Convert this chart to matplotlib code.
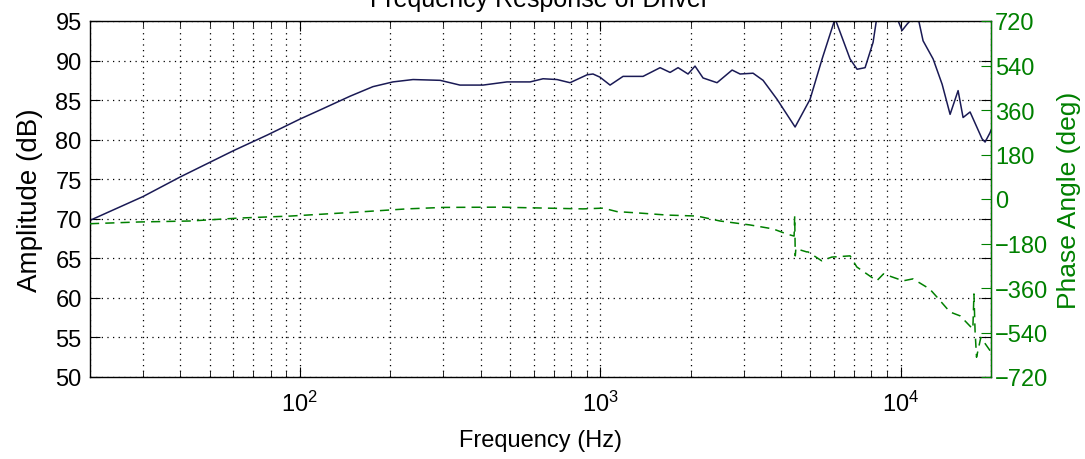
import matplotlib
matplotlib.use("Agg")
import matplotlib.pyplot as plt
import matplotlib.ticker as mticker
import numpy as np

# ========================== Data ==========================
freq_amp = [20, 30, 40, 60, 78, 100, 119, 147, 175, 204, 238, 293, 341, 407,
            489, 584, 645, 718, 793, 904, 946, 998, 1078, 1191, 1388, 1582,
            1708, 1816, 1960, 2068, 2199, 2448, 2748, 2921, 3227, 3484, 3879,
            4454, 4995, 5478, 6052, 6788, 7164, 7617, 8098, 8416, 9226,
            10116, 10510, 11347, 11881, 12832, 13751, 14616, 15540, 16146,
            17036, 18679, 19114, 19861, 20000]
amp_db = [69.8, 72.8, 75.3, 78.6, 80.6, 82.6, 83.9, 85.5, 86.7, 87.3, 87.6,
          87.5, 86.9, 86.9, 87.3, 87.3, 87.7, 87.6, 87.2, 88.2, 88.3, 87.9,
          86.9, 88.0, 88.0, 89.1, 88.5, 89.1, 88.3, 89.3, 87.8, 87.2, 88.8,
          88.3, 88.4, 87.5, 85.1, 81.6, 85.1, 90.2, 95.3, 90.2, 88.9, 89.1,
          92.3, 96.5, 97.5, 93.8, 94.6, 96.0, 92.5, 90.2, 87.0, 83.2, 86.2,
          82.8, 83.5, 80.1, 79.7, 80.9, 81.2]

freq_ph = [20, 29, 43, 63, 93, 155, 227, 300, 464, 876, 1022, 1137, 1357,
           1669, 2101, 2505, 3154, 3762, 4188, 4420, 4440, 4460, 4480, 4510,
           4870, 4920, 5460, 5900, 6790, 7150, 8330, 8770, 10200, 11000,
           12500, 13200, 14600, 15800, 17400, 17550, 17700, 17900, 18500,
           19900, 20000]
phase_deg = [-100, -93, -89, -77, -69, -53, -40, -34, -33, -40, -37, -51,
             -57, -65, -69, -89, -105, -121, -142, -150, -70, -230, -200,
             -202, -214, -214, -250, -235, -230, -275, -331, -303, -331,
             -323, -364, -396, -457, -473, -526, -384, -534, -640, -560,
             -615, -620]

amp_ticks = [50, 55, 60, 65, 70, 75, 80, 85, 90, 95]
phase_ticks = [-720, -540, -360, -180, 0, 180, 360, 540, 720]
green = '#008000'

# ========================== Settings ==========================
plt.rcParams.update({
    "font.family": ["Liberation Sans", "DejaVu Sans"],
    "mathtext.fontset": "custom",
    "mathtext.rm": "Liberation Sans",
    "mathtext.it": "Liberation Sans:italic",
})

# ========================== Plot ==========================
fig = plt.figure(figsize=(10.85, 4.6), dpi=100)
ax = fig.add_axes([90 / 1085, 82 / 460, 901 / 1085, 356 / 460])
ax2 = ax.twinx()

ax.plot(freq_amp, amp_db, color='#1a1a55', lw=1.1)
ax2.plot(freq_ph, phase_deg, color=green, lw=1.1, dashes=(6, 4))

ax.set_xscale('log')
ax.set_xlim(20, 20000)
ax.set_ylim(50, 95)
ax.set_yticks(amp_ticks)
ax2.set_ylim(-720, 720)
ax2.set_yticks(phase_ticks)

ax.xaxis.set_major_locator(mticker.LogLocator(base=10, numticks=10))
ax.xaxis.set_minor_locator(mticker.LogLocator(base=10, subs=np.arange(2, 10), numticks=20))
ax.xaxis.set_minor_formatter(mticker.NullFormatter())

grid_kw = dict(color='black', linestyle=(0, (1, 3.5)), linewidth=0.9)
ax.grid(True, which='major', axis='both', **grid_kw)
ax.grid(True, which='minor', axis='x', **grid_kw)

ax.tick_params(direction='in', which='major', length=7, top=True, right=True,
               labelsize=17, pad=6)
ax.tick_params(direction='in', which='minor', length=4, top=True, right=True)
ax.tick_params(axis='x', pad=10)
ax2.tick_params(direction='in', length=7, colors=green, labelsize=17, pad=3)

for s in ax.spines.values():
    s.set_linewidth(1.0)
ax2.spines['right'].set_color(green)
ax2.spines['left'].set_visible(False)
ax2.spines['top'].set_visible(False)
ax2.spines['bottom'].set_visible(False)

ax.set_xlabel('Frequency (Hz)', fontsize=17, labelpad=9)
ax.set_ylabel('Amplitude (dB)', fontsize=20, labelpad=9)
ax2.set_ylabel('Phase Angle (deg)', fontsize=19, color=green, labelpad=6)

fig.text(540 / 1085, 1 - 7 / 460, 'Frequency Response of Driver',
         fontsize=18, ha='center', va='baseline')

fig.savefig('out.png', dpi=100)
